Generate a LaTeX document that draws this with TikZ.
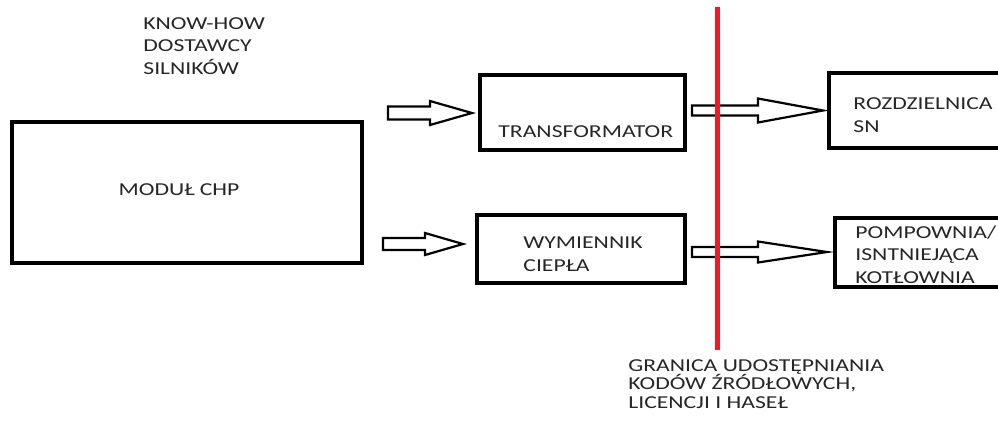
\documentclass[tikz,border=0pt]{standalone}
\usepackage{fontspec}
\setmainfont[FakeStretch=1.3]{Carlito}
\usetikzlibrary{positioning,calc}
\definecolor{granica}{RGB}{237,28,36}
\tikzset{
  blok/.style={draw=black,line width=1.7pt,inner sep=0pt},
  opis/.style={inner sep=0pt,align=left,text=black!85,
    font=\fontsize{9.1}{11.2}\selectfont},
  strzalka/.style={draw=black,line width=1.1pt,fill=white,line join=miter}
}
% #1 ogon, #2 grot, #3 dlugosc grotu, #4 pol. trzonu, #5 pol. grotu
\newcommand{\blokstrzalka}[5]{%
  \draw[strzalka] ($(#1)+(0,#4)$) -- ($(#2)+(-#3,#4)$) -- ($(#2)+(-#3,#5)$)
    -- (#2) -- ($(#2)+(-#3,-#5)$) -- ($(#2)+(-#3,-#4)$) -- ($(#1)+(0,-#4)$) -- cycle;}

\begin{document}
\begin{tikzpicture}[x=0.5pt,y=-0.5pt]
      \useasboundingbox (0,0) rectangle (998,420);
      \clip (0,0) rectangle (998,420);

      %bloki
      \node[blok,minimum width=175pt,minimum height=70.5pt] (modul) at (187,192.5) {};
      \node[opis,anchor=center] (modul_t) at (179,190) {MODUŁ CHP};

      \node[blok,minimum width=102.5pt,minimum height=37.5pt] (trafo) at (582.5,112.5) {};
      \node[opis,anchor=base west] (trafo_t) at (498,137) {TRANSFORMATOR};

      \node[blok,minimum width=104pt,minimum height=34pt] (wymiennik) at (581,249) {};
      \node[opis,anchor=base west] (wymiennik_t) at (523,271) {WYMIENNIK\\CIEPŁA};

      \node[blok,minimum width=90.5pt,minimum height=37.5pt] (rozdz) at (919.5,110.5) {};
      \node[opis,anchor=base west] (rozdz_t) at (853,132) {ROZDZIELNICA\\SN};

      \node[blok,minimum width=87.5pt,minimum height=34.5pt] (pomp) at (922.5,252.5) {};
      \node[opis,anchor=base west] (pomp_t) at (855,283) {POMPOWNIA/\\ISNTNIEJĄCA\\KOTŁOWNIA};

      %opisy
      \node[opis,anchor=base west] (knowhow) at (143,74) {KNOW-HOW\\DOSTAWCY\\SILNIKÓW};
      \node[opis,anchor=base west,font=\fontsize{9.1}{9.2}\selectfont] (granica_t) at (628,408)
      {GRANICA UDOSTĘPNIANIA\\KODÓW ŹRÓDŁOWYCH,\\LICENCJI I HASEŁ};

      %strzalki
      \coordinate (s1a) at (388,113);
      \coordinate (s1b) at (472,113);
      \blokstrzalka{s1a}{s1b}{42}{6.5}{12}

      \coordinate (s2a) at (383,244);
      \coordinate (s2b) at (463,244);
      \blokstrzalka{s2a}{s2b}{38}{6}{11}

      \coordinate (s3a) at (692,110.5);
      \coordinate (s3b) at (823,110.5);
      \blokstrzalka{s3a}{s3b}{65}{5}{12}

      \coordinate (s4a) at (692,252);
      \coordinate (s4b) at (827,252);
      \blokstrzalka{s4a}{s4b}{69}{5}{10.5}

      %granica
      \coordinate (g1) at (717,7);
      \coordinate (g2) at (717,350);
      \draw[color=granica,line width=2.5pt] (g1) -- (g2);
\end{tikzpicture}
\end{document}
